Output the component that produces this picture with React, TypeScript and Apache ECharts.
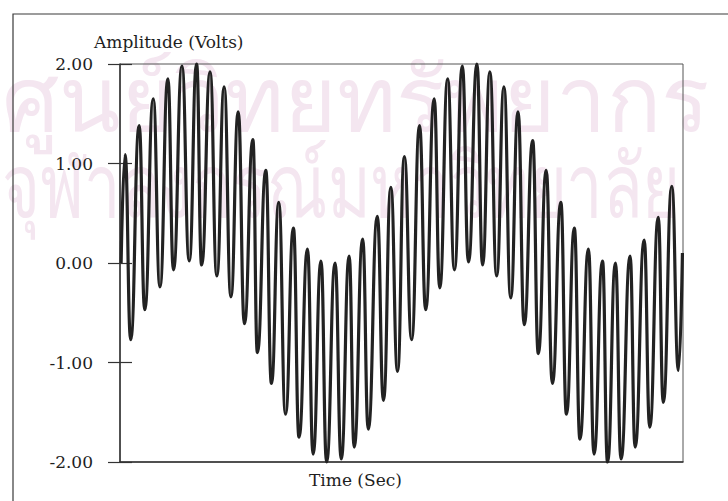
import React, { useEffect, useRef } from "react";
import * as echarts from "echarts";

// Time of each local extreme (fraction of the full trace) and its amplitude in volts
const extremaTime: number[] = [
  0.002, 0.009, 0.019, 0.034, 0.044, 0.059, 0.071, 0.085, 0.095, 0.110,
  0.123, 0.136, 0.145, 0.160, 0.172, 0.185, 0.197, 0.210, 0.221, 0.236,
  0.244, 0.259, 0.269, 0.282, 0.294, 0.308, 0.318, 0.333, 0.343, 0.357,
  0.367, 0.382, 0.393, 0.407, 0.416, 0.431, 0.441, 0.457, 0.468, 0.481,
  0.493, 0.505, 0.518, 0.532, 0.543, 0.558, 0.568, 0.582, 0.594, 0.608,
  0.619, 0.634, 0.644, 0.657, 0.669, 0.682, 0.694, 0.707, 0.718, 0.733,
  0.743, 0.757, 0.768, 0.783, 0.793, 0.807, 0.817, 0.832, 0.842, 0.857,
  0.866, 0.880, 0.890, 0.906, 0.915, 0.931, 0.941, 0.956, 0.965, 0.980,
  0.992, 0.999,
];
const extremaVolts: number[] = [
  0.0, 1.09, -0.77, 1.38, -0.47, 1.65, -0.24, 1.85, -0.07, 1.98,
  0.02, 2.0, -0.02, 1.92, -0.13, 1.77, -0.34, 1.52, -0.61, 1.24,
  -0.9, 0.93, -1.21, 0.61, -1.52, 0.35, -1.75, 0.14, -1.92, 0.02,
  -2.0, 0.0, -1.97, 0.07, -1.85, 0.24, -1.67, 0.47, -1.38, 0.76,
  -1.09, 1.07, -0.77, 1.38, -0.47, 1.65, -0.25, 1.85, -0.07, 1.98,
  0.01, 2.0, -0.02, 1.92, -0.13, 1.77, -0.35, 1.52, -0.62, 1.23,
  -0.91, 0.93, -1.21, 0.61, -1.52, 0.35, -1.77, 0.14, -1.92, 0.02,
  -2.0, 0.0, -1.97, 0.07, -1.85, 0.23, -1.65, 0.46, -1.4, 0.77,
  -1.08, 0.1,
];
const yMin = -2;
const yMax = 2;
const yStep = 1;
const yTitle = "Amplitude (Volts)";
const xTitle = "Time (Sec)";
const watermark1 = "ศูนย์วิทยทรัพยากร";
const watermark2 = "จุฬาลงกรณ์มหาวิทยาลัย";

const FONT = "DejaVu Serif";
const INK = "#1e1e1e";
const WM = "#f4e6f0";

export default function App() {
  const ref = useRef<HTMLDivElement>(null);
  useEffect(() => {
    if (!ref.current) return;
    const chart = echarts.init(ref.current, null, { renderer: "svg" });
    const data = extremaTime.map((t, i) => [t, extremaVolts[i]]);
    chart.setOption({
      animation: false,
      backgroundColor: "#ffffff",
      title: [
        {
          text: yTitle,
          left: 94,
          top: 33,
          padding: 0,
          textStyle: { fontFamily: FONT, fontSize: 17, fontWeight: "normal", color: INK },
        },
        {
          text: xTitle,
          left: 309,
          top: 471,
          padding: 0,
          textStyle: { fontFamily: FONT, fontSize: 17, fontWeight: "normal", color: INK },
        },
      ],
      graphic: [
        {
          type: "text",
          x: 2,
          y: 51,
          z: -10,
          silent: true,
          style: {
            text: watermark1,
            fontSize: 90,
            fill: WM,
            fontFamily: "Noto Sans, DejaVu Sans, sans-serif",
          },
        },
        {
          type: "text",
          x: 2,
          y: 139,
          z: -10,
          scaleX: 0.74,
          silent: true,
          style: {
            text: watermark2,
            fontSize: 88,
            fill: WM,
            fontFamily: "Noto Sans, DejaVu Sans, sans-serif",
          },
        },
        {
          type: "rect",
          shape: { x: 13, y: 14, width: 760, height: 540 },
          silent: true,
          style: { fill: "none", stroke: "#3a3a3a", lineWidth: 1.2 },
        },
      ],
      grid: {
        left: 120,
        right: 45,
        top: 64,
        bottom: 39,
        show: true,
        borderColor: "#555",
        borderWidth: 1,
        backgroundColor: "transparent",
      },
      xAxis: {
        type: "value",
        min: 0,
        max: 1,
        axisLine: { show: true, onZero: false, lineStyle: { color: "#333", width: 1.5 } },
        axisTick: { show: false },
        axisLabel: { show: false },
        splitLine: { show: false },
      },
      yAxis: [
        {
          type: "value",
          min: yMin,
          max: yMax,
          interval: yStep,
          position: "left",
          axisLine: { show: true, onZero: false, lineStyle: { color: "#333", width: 1.5 } },
          axisTick: { show: true, inside: false, length: 12, lineStyle: { color: "#333", width: 1.2 } },
          axisLabel: {
            margin: 27,
            fontFamily: FONT,
            fontSize: 17,
            color: INK,
            formatter: (v: number) => v.toFixed(2),
          },
          splitLine: { show: false },
        },
        {
          type: "value",
          min: yMin,
          max: yMax,
          interval: yStep,
          position: "left",
          axisLine: { show: false },
          axisTick: { show: true, inside: true, length: 12, lineStyle: { color: "#333", width: 1.2 } },
          axisLabel: { show: false },
          splitLine: { show: false },
        },
      ],
      series: [
        {
          type: "line",
          data,
          smooth: 0.5,
          smoothMonotone: "x",
          showSymbol: false,
          symbol: "none",
          clip: false,
          z: 5,
          lineStyle: { color: "#222", width: 3.2 },
        },
      ],
    });
    return () => chart.dispose();
  }, []);
  return <div ref={ref} style={{ width: 728, height: 501, position: "absolute", left: 0, top: 0 }} />;
}
